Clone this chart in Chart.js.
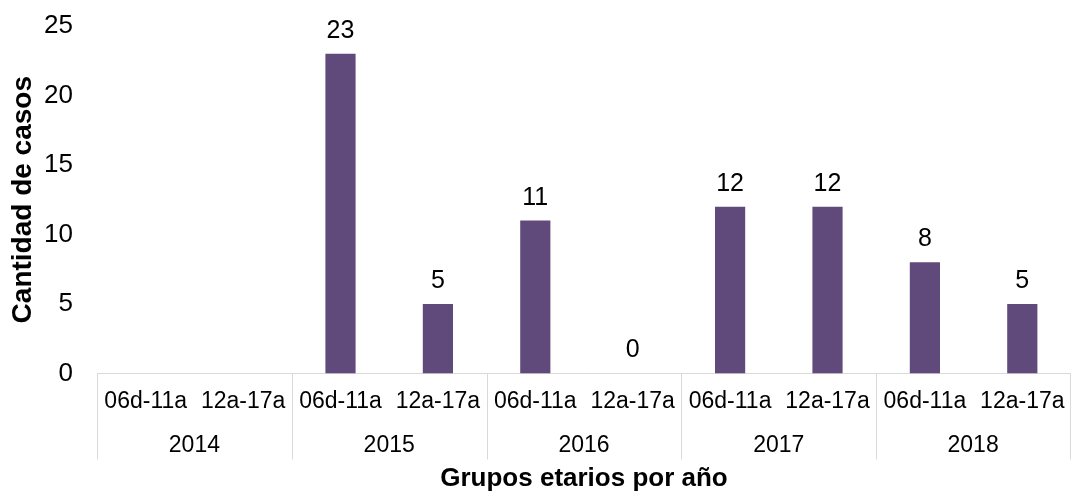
<!DOCTYPE html>
<html lang="es">
<head>
    <meta charset="UTF-8">
    <title>Casos por grupo etario</title>
    <script src="https://cdn.jsdelivr.net/npm/chart.js"></script>
    <style>
        html, body { margin: 0; padding: 0; background: #ffffff; }
        .chart-box { width: 1071px; height: 492px; position: relative; }
    </style>
</head>
<body>
    <div class="chart-box">
        <canvas id="barChart"></canvas>
    </div>
    <script>
        const grupos = ['06d-11a', '12a-17a', '06d-11a', '12a-17a', '06d-11a', '12a-17a', '06d-11a', '12a-17a', '06d-11a', '12a-17a'];
        const anios = ['2014', '2015', '2016', '2017', '2018'];
        const casos = [null, null, 23, 5, 11, 0, 12, 12, 8, 5];
        const yTicks = [0, 5, 10, 15, 20, 25];

        const font = "'Liberation Sans', Arial, sans-serif";
        const lineColor = '#d9d9d9';

        // etiquetas de valor, años y separadores
        const extras = {
            id: 'extras',
            afterDatasetsDraw(chart) {
                const ctx = chart.ctx;
                const meta = chart.getDatasetMeta(0);
                ctx.save();
                ctx.fillStyle = '#000';
                ctx.font = '25px ' + font;
                ctx.textAlign = 'center';
                ctx.textBaseline = 'alphabetic';
                meta.data.forEach((bar, i) => {
                    if (casos[i] === null) return;
                    ctx.fillText(String(casos[i]), bar.x, bar.y - 16);
                });
                ctx.restore();
            },
            afterDraw(chart) {
                const ctx = chart.ctx;
                const xs = chart.scales.x;
                const area = chart.chartArea;
                const per = grupos.length / anios.length;
                ctx.save();
                ctx.strokeStyle = lineColor;
                ctx.lineWidth = 1;
                const bounds = [];
                for (let g = 0; g <= anios.length; g++) {
                    let px;
                    if (g === 0) px = area.left;
                    else if (g === anios.length) px = area.right - 1;
                    else px = (xs.getPixelForValue(g * per - 1) + xs.getPixelForValue(g * per)) / 2;
                    bounds.push(px);
                    ctx.beginPath();
                    ctx.moveTo(Math.round(px) + 0.5, area.bottom);
                    ctx.lineTo(Math.round(px) + 0.5, area.bottom + 86);
                    ctx.stroke();
                }
                ctx.fillStyle = '#000';
                ctx.font = '23px ' + font;
                ctx.textAlign = 'center';
                ctx.textBaseline = 'middle';
                anios.forEach((a, g) => {
                    ctx.fillText(a, (bounds[g] + bounds[g + 1]) / 2, area.bottom + 72);
                });
                ctx.restore();
            }
        };

        new Chart(document.getElementById('barChart'), {
            type: 'bar',
            data: {
                labels: grupos,
                datasets: [{
                    label: 'Casos',
                    data: casos,
                    backgroundColor: '#604a7b',
                    barPercentage: 0.62,
                    categoryPercentage: 0.5
                }]
            },
            options: {
                responsive: true,
                maintainAspectRatio: false,
                animation: false,
                layout: { padding: { top: 26, right: 0, bottom: 0, left: 0 } },
                plugins: {
                    legend: { display: false },
                    tooltip: { enabled: false }
                },
                scales: {
                    x: {
                        afterFit(scale) { scale.paddingLeft = 0; scale.paddingRight = 0; },
                        grid: { display: false, drawTicks: false },
                        border: { display: true, color: lineColor, width: 1 },
                        ticks: {
                            color: '#000',
                            font: { family: font, size: 23 },
                            padding: 14,
                            maxRotation: 0,
                            autoSkip: false
                        },
                        title: {
                            display: true,
                            text: 'Grupos etarios por año',
                            color: '#000',
                            font: { family: font, size: 26, weight: 'bold', lineHeight: 1 },
                            padding: { top: 37, bottom: 0 }
                        }
                    },
                    y: {
                        min: 0,
                        max: 25,
                        afterFit(scale) {
                            scale.width = 97;
                            scale.paddingTop = 0;
                            scale.paddingBottom = 0;
                        },
                        afterBuildTicks(scale) { scale.ticks = yTicks.map(v => ({ value: v })); },
                        grid: { display: false, drawTicks: false },
                        border: { display: false },
                        ticks: {
                            color: '#000',
                            font: { family: font, size: 26 },
                            padding: 24
                        },
                        title: {
                            display: true,
                            text: 'Cantidad de casos',
                            color: '#000',
                            font: { family: font, size: 28, weight: 'bold', lineHeight: 1 },
                            padding: { top: 9, bottom: 0 }
                        }
                    }
                }
            },
            plugins: [extras]
        });
    </script>
</body>
</html>
